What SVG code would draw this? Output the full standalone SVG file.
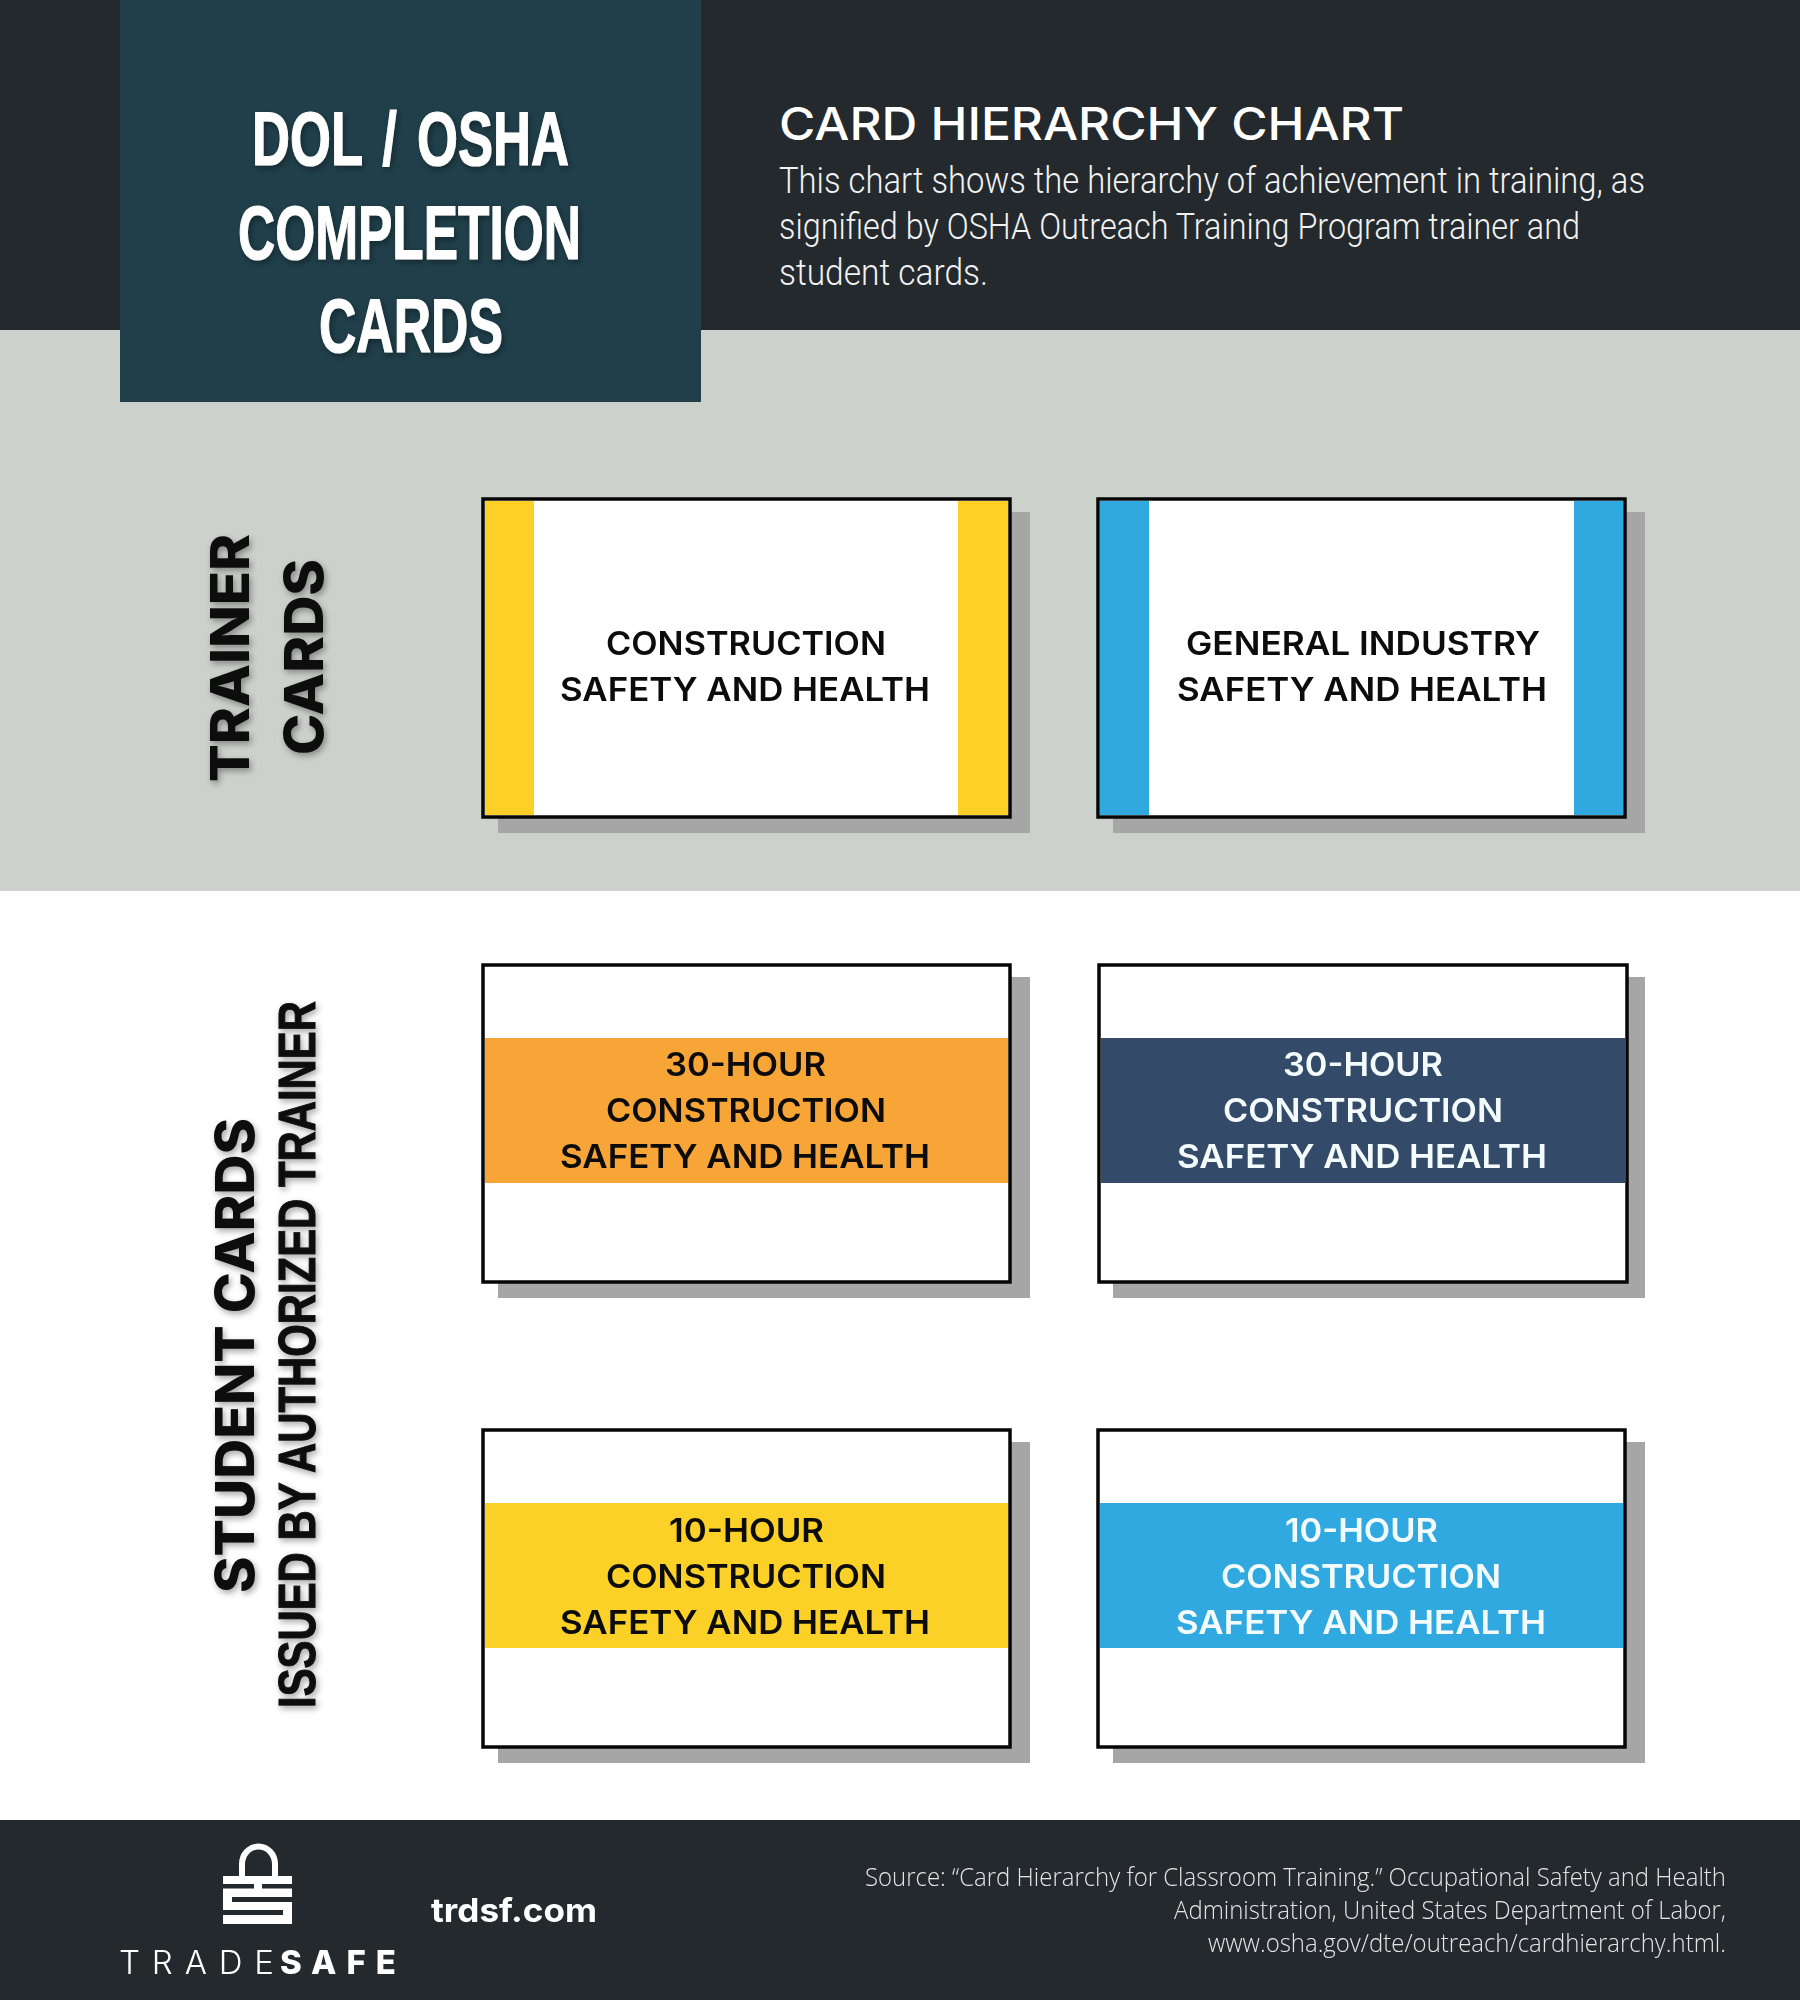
<svg xmlns="http://www.w3.org/2000/svg" width="1800" height="2000" viewBox="0 0 1800 2000">
<style>
.card{fill:#fff;stroke:#060606;stroke-width:3.5}
.shadow{fill:#a6a6a6}
.lbl{font-family:"Inter","Liberation Sans",sans-serif;font-weight:600;font-size:33px;fill:#0c0c0c}
.w{fill:#f4fbfd}
.title{font-family:"Liberation Sans",sans-serif;font-weight:700;font-size:76px;fill:#fff;stroke:#fff;stroke-width:1.2}
.side{font-family:"Inter","Liberation Sans",sans-serif;font-weight:800;font-size:53px;fill:#0c0c0c}
.body{font-family:"Roboto","Liberation Sans",sans-serif;font-weight:300;font-size:36px;fill:#f2f2f2}
.src{font-family:"Open Sans","Liberation Sans",sans-serif;font-weight:300;font-size:25px;fill:#e4e4e4;text-anchor:start}
</style>
<defs>
<filter id="ts" x="-20%" y="-20%" width="140%" height="140%"><feDropShadow dx="2" dy="3" stdDeviation="3" flood-color="#000" flood-opacity="0.35"/></filter>
</defs>
<rect id="bg" width="1800" height="2000" fill="#fff"/>
<rect id="top-band" width="1800" height="330" fill="#23292d"/>
<rect id="trainer-band" y="330" width="1800" height="561" fill="#ccd1cb"/>
<rect id="footer-band" y="1820" width="1800" height="180" fill="#23292d"/>

<g id="title-block">
<rect x="120" width="581" height="402" fill="#203f4a"/>
<g filter="url(#ts)">
<text class="title" x="252" y="165" word-spacing="8" textLength="317" lengthAdjust="spacingAndGlyphs">DOL / OSHA</text>
<text class="title" x="238" y="259" textLength="343" lengthAdjust="spacingAndGlyphs">COMPLETION</text>
<text class="title" x="319" y="352" textLength="184" lengthAdjust="spacingAndGlyphs">CARDS</text>
</g>
</g>

<g id="header-text">
<text x="779" y="140" font-family="Inter, 'Liberation Sans', sans-serif" font-weight="500" font-size="45" fill="#fff" textLength="625" lengthAdjust="spacingAndGlyphs">CARD HIERARCHY CHART</text>
<text class="body" x="779" y="193" textLength="866" lengthAdjust="spacingAndGlyphs">This chart shows the hierarchy of achievement in training, as</text>
<text class="body" x="779" y="239" textLength="801" lengthAdjust="spacingAndGlyphs">signified by OSHA Outreach Training Program trainer and</text>
<text class="body" x="779" y="285" textLength="209" lengthAdjust="spacingAndGlyphs">student cards.</text>
</g>

<g id="side-labels" filter="url(#ts)">
<text class="side" transform="translate(249,782) rotate(-90)" textLength="248" lengthAdjust="spacingAndGlyphs">TRAINER</text>
<text class="side" transform="translate(323,755) rotate(-90)" textLength="196" lengthAdjust="spacingAndGlyphs">CARDS</text>
<text class="side" transform="translate(254,1593) rotate(-90)" textLength="475" lengthAdjust="spacingAndGlyphs">STUDENT CARDS</text>
<text transform="translate(315,1708) rotate(-90)" font-family="'Liberation Sans', sans-serif" font-weight="700" font-size="51" fill="#0c0c0c" stroke="#0c0c0c" stroke-width="1" textLength="707" lengthAdjust="spacingAndGlyphs">ISSUED BY AUTHORIZED TRAINER</text>
</g>

<g id="card-trainer-construction">
<rect class="shadow" x="498" y="512" width="532" height="321"/>
<rect class="card" x="483" y="499" width="527" height="318"/>
<rect x="485" y="501" width="49" height="314" fill="#fdd028"/>
<rect x="958" y="501" width="50" height="314" fill="#fdd028"/>
<text class="lbl" x="606" y="655" textLength="280" lengthAdjust="spacingAndGlyphs">CONSTRUCTION</text>
<text class="lbl" x="560" y="701" textLength="370" lengthAdjust="spacingAndGlyphs">SAFETY AND HEALTH</text>
</g>

<g id="card-trainer-general">
<rect class="shadow" x="1113" y="512" width="532" height="321"/>
<rect class="card" x="1098" y="499" width="527" height="318"/>
<rect x="1100" y="501" width="49" height="314" fill="#30a9e0"/>
<rect x="1574" y="501" width="49" height="314" fill="#30a9e0"/>
<text class="lbl" x="1186" y="655" textLength="354" lengthAdjust="spacingAndGlyphs">GENERAL INDUSTRY</text>
<text class="lbl" x="1177" y="701" textLength="370" lengthAdjust="spacingAndGlyphs">SAFETY AND HEALTH</text>
</g>

<g id="card-student-30-construction">
<rect class="shadow" x="498" y="977" width="532" height="321"/>
<rect class="card" x="483" y="965" width="527" height="317"/>
<rect x="485" y="1038" width="523" height="145" fill="#f7a536"/>
<text class="lbl" x="665" y="1076" textLength="161" lengthAdjust="spacingAndGlyphs">30-HOUR</text>
<text class="lbl" x="606" y="1122" textLength="280" lengthAdjust="spacingAndGlyphs">CONSTRUCTION</text>
<text class="lbl" x="560" y="1168" textLength="370" lengthAdjust="spacingAndGlyphs">SAFETY AND HEALTH</text>
</g>

<g id="card-student-30-general">
<rect class="shadow" x="1113" y="977" width="532" height="321"/>
<rect class="card" x="1099" y="965" width="528" height="317"/>
<rect x="1101" y="1038" width="524" height="145" fill="#334a68"/>
<text class="lbl w" x="1283" y="1076" textLength="160" lengthAdjust="spacingAndGlyphs">30-HOUR</text>
<text class="lbl w" x="1223" y="1122" textLength="280" lengthAdjust="spacingAndGlyphs">CONSTRUCTION</text>
<text class="lbl w" x="1177" y="1168" textLength="370" lengthAdjust="spacingAndGlyphs">SAFETY AND HEALTH</text>
</g>

<g id="card-student-10-construction">
<rect class="shadow" x="498" y="1442" width="532" height="321"/>
<rect class="card" x="483" y="1430" width="527" height="317"/>
<rect x="485" y="1503" width="523" height="145" fill="#fbd027"/>
<text class="lbl" x="669" y="1542" textLength="155" lengthAdjust="spacingAndGlyphs">10-HOUR</text>
<text class="lbl" x="606" y="1588" textLength="280" lengthAdjust="spacingAndGlyphs">CONSTRUCTION</text>
<text class="lbl" x="560" y="1634" textLength="370" lengthAdjust="spacingAndGlyphs">SAFETY AND HEALTH</text>
</g>

<g id="card-student-10-general">
<rect class="shadow" x="1113" y="1442" width="532" height="321"/>
<rect class="card" x="1098" y="1430" width="527" height="317"/>
<rect x="1100" y="1503" width="523" height="145" fill="#30a9e0"/>
<text class="lbl w" x="1285" y="1542" textLength="153" lengthAdjust="spacingAndGlyphs">10-HOUR</text>
<text class="lbl w" x="1221" y="1588" textLength="280" lengthAdjust="spacingAndGlyphs">CONSTRUCTION</text>
<text class="lbl w" x="1176" y="1634" textLength="370" lengthAdjust="spacingAndGlyphs">SAFETY AND HEALTH</text>
</g>

<g id="logo">
<path d="M242 1877 V1864 a16 17 0 0 1 33 0 V1877" fill="none" stroke="#fff" stroke-width="6"/>
<rect x="223" y="1876" width="69" height="48" fill="#fff"/>
<rect x="223" y="1884" width="31" height="4.5" fill="#23292d"/>
<rect x="262" y="1884" width="30" height="4.5" fill="#23292d"/>
<rect x="232" y="1897" width="60" height="5" fill="#23292d"/>
<rect x="223" y="1910" width="60" height="5" fill="#23292d"/>
<text x="119" y="1974" font-family="Inter, 'Liberation Sans', sans-serif" font-weight="300" font-size="33" fill="#fff" textLength="155">TRADE</text>
<text x="280" y="1974" font-family="Inter, 'Liberation Sans', sans-serif" font-weight="800" font-size="33" fill="#fff" textLength="116">SAFE</text>
</g>

<g id="footer-text">
<text x="431" y="1922" font-family="Inter, 'Liberation Sans', sans-serif" font-weight="700" font-size="33" fill="#fff" textLength="166" lengthAdjust="spacingAndGlyphs">trdsf.com</text>
<text class="src" x="865" y="1886" textLength="861" lengthAdjust="spacingAndGlyphs">Source: “Card Hierarchy for Classroom Training.” Occupational Safety and Health</text>
<text class="src" x="1174" y="1919" textLength="552" lengthAdjust="spacingAndGlyphs">Administration, United States Department of Labor,</text>
<text class="src" x="1208" y="1952" textLength="518" lengthAdjust="spacingAndGlyphs">www.osha.gov/dte/outreach/cardhierarchy.html.</text>
</g>
</svg>
